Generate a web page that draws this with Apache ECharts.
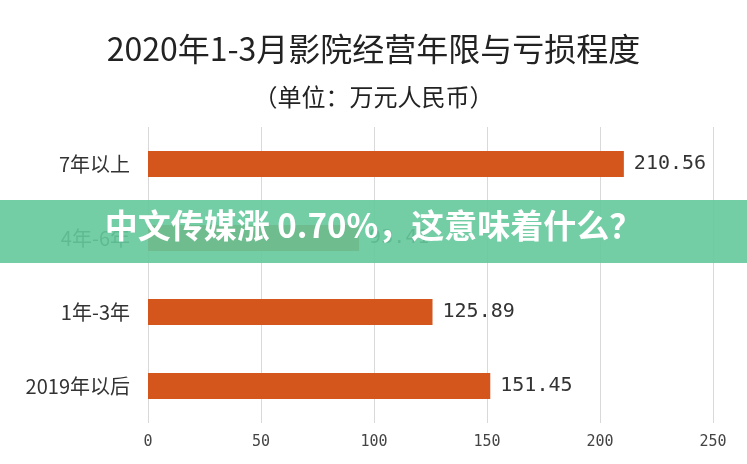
<!DOCTYPE html><html><head><meta charset="utf-8"><script src="https://cdn.jsdelivr.net/npm/echarts@6/dist/echarts.min.js"></script></head><body style="margin:0"><div id="c" style="width:747px;height:464px"></div><script>
const categories=['2019年以后','1年-3年','4年-6年','7年以上'];
const values=[151.45,125.89,93.41,210.56];
const c=echarts.init(document.getElementById('c'));
c.setOption({backgroundColor:'#fff',
title:{text:'2020年1-3月影院经营年限与亏损程度',subtext:'（单位：万元人民币）',left:'center',top:28,itemGap:20,textStyle:{fontFamily:'Noto Sans CJK SC',fontSize:32,fontWeight:'normal',color:'#222'},subtextStyle:{fontFamily:'Noto Sans CJK SC',fontSize:24,color:'#222'}},
grid:{left:148,right:34,top:127,bottom:41},
xAxis:{type:'value',min:0,max:250,interval:50,axisLabel:{color:'#444',fontSize:15,margin:12,fontFamily:'DejaVu Sans Mono'},splitLine:{lineStyle:{color:'#d9d9d9'}},axisLine:{show:false}},
yAxis:{type:'category',data:categories,axisTick:{show:false},axisLine:{show:false},axisLabel:{color:'#333',fontSize:20,margin:18,fontFamily:'Noto Sans CJK SC'}},
series:[{type:'bar',data:values,barWidth:26,itemStyle:{color:'#d4561d'},label:{show:true,position:'right',color:'#333',fontSize:20,distance:10,fontFamily:'DejaVu Sans Mono',formatter:p=>p.value.toFixed(2)}}],
graphic:[{type:'rect',shape:{x:0,y:200,width:747,height:63},style:{fill:'rgba(100,200,155,0.9)'},z:100},
{type:'text',left:'center',top:209,style:{text:'中文传媒涨 0.70%，这意味着什么？',fill:'#fff',font:'bold 33px "Noto Sans CJK SC"'},z:101}]});
</script></body></html>
